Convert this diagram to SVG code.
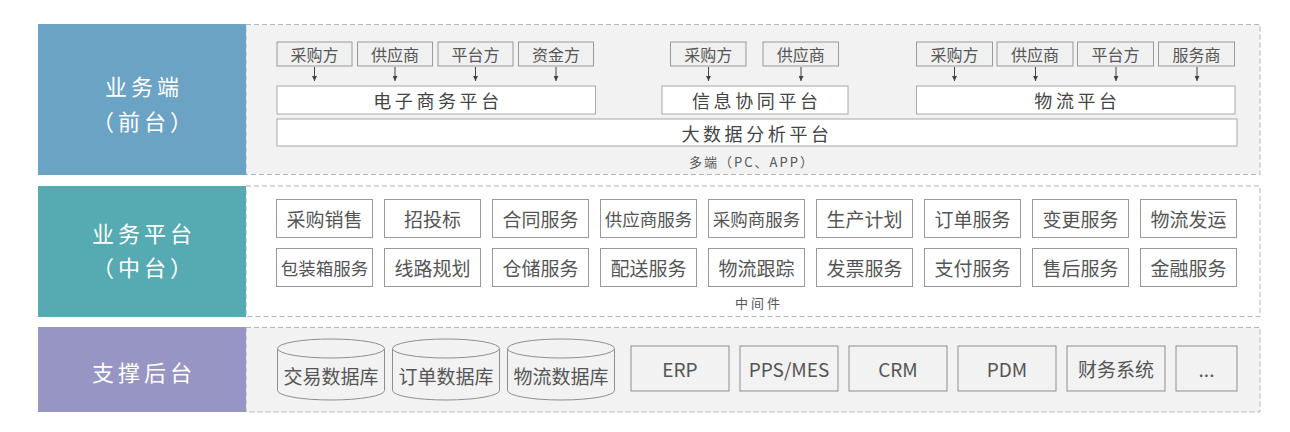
<svg xmlns="http://www.w3.org/2000/svg" width="1290" height="432" viewBox="0 0 1290 432">
<defs>
<marker id="ah" viewBox="0 0 10 10" refX="10" refY="5" markerWidth="5" markerHeight="5" orient="auto" markerUnits="userSpaceOnUse">
<path d="M0,0 L10,5 L0,10 z" fill="#444"/>
</marker>
<style>
text{font-family:"Noto Sans CJK SC","Noto Sans",sans-serif;text-anchor:middle;dominant-baseline:central;fill:#555}
.zone{stroke:#b5b5b5;stroke-width:1;stroke-dasharray:5 3}
.lbl{fill:#fff;font-size:22px;letter-spacing:4px}
.sm{fill:#f0f0f0;stroke:#9a9a9a;stroke-width:1}
.smt{font-size:16px;fill:#555}
.plat{fill:#fff;stroke:#a8a8a8;stroke-width:1}
.platt{font-size:18px;letter-spacing:3.6px;fill:#444}
.note{font-size:13px;letter-spacing:2px;fill:#555}
.svc{fill:#fff;stroke:#9a9a9a;stroke-width:1}
.t4{font-size:19px}
.t5{font-size:17.5px}
.sys{fill:#f2f2f2;stroke:#8e8e8e;stroke-width:1}
.cyl{fill:#f2f2f2;stroke:#8e8e8e;stroke-width:1}
.arr{stroke:#444;stroke-width:1;fill:none}
</style>
</defs>

<g id="zones">
<rect class="zone" x="246" y="24.5" width="1014" height="150" fill="#f2f2f2"/>
<rect class="zone" x="246" y="186" width="1014" height="130.5" fill="#ffffff"/>
<rect class="zone" x="246" y="327.5" width="1014" height="84.5" fill="#f2f2f2"/>
</g>

<g id="label-front">
<rect x="38" y="24" width="208" height="151" fill="#6ba3c5"/>
<text class="lbl" x="144" y="85">业务端</text>
<text class="lbl" x="144" y="120">（前台）</text>
</g>
<g id="label-middle">
<rect x="38" y="186" width="208" height="131" fill="#56aab2"/>
<text class="lbl" x="144" y="232">业务平台</text>
<text class="lbl" x="144" y="266">（中台）</text>
</g>
<g id="label-back">
<rect x="38" y="327" width="208" height="85" fill="#9795c3"/>
<text class="lbl" x="144" y="371">支撑后台</text>
</g>

<g id="front-roles">
<g id="r1"><rect class="sm" x="277" y="42" width="75" height="24"/><text class="smt" x="314.5" y="54">采购方</text></g>
<g id="r2"><rect class="sm" x="357.5" y="42" width="75" height="24"/><text class="smt" x="395" y="54">供应商</text></g>
<g id="r3"><rect class="sm" x="438" y="42" width="75" height="24"/><text class="smt" x="475.5" y="54">平台方</text></g>
<g id="r4"><rect class="sm" x="518.5" y="42" width="75" height="24"/><text class="smt" x="556" y="54">资金方</text></g>
<g id="r5"><rect class="sm" x="670.5" y="42" width="75.5" height="24"/><text class="smt" x="708.2" y="54">采购方</text></g>
<g id="r6"><rect class="sm" x="763" y="42" width="75.5" height="24"/><text class="smt" x="800.7" y="54">供应商</text></g>
<g id="r7"><rect class="sm" x="916.5" y="42" width="76" height="24"/><text class="smt" x="954.5" y="54">采购方</text></g>
<g id="r8"><rect class="sm" x="997" y="42" width="76" height="24"/><text class="smt" x="1035" y="54">供应商</text></g>
<g id="r9"><rect class="sm" x="1077.5" y="42" width="76" height="24"/><text class="smt" x="1115.5" y="54">平台方</text></g>
<g id="r10"><rect class="sm" x="1158.5" y="42" width="76" height="24"/><text class="smt" x="1196.5" y="54">服务商</text></g>
</g>

<g id="connectors">
<line class="arr" x1="314.5" y1="67" x2="314.5" y2="81" marker-end="url(#ah)"/>
<line class="arr" x1="395" y1="67" x2="395" y2="81" marker-end="url(#ah)"/>
<line class="arr" x1="475.5" y1="67" x2="475.5" y2="81" marker-end="url(#ah)"/>
<line class="arr" x1="556" y1="67" x2="556" y2="81" marker-end="url(#ah)"/>
<line class="arr" x1="708.5" y1="67" x2="708.5" y2="81" marker-end="url(#ah)"/>
<line class="arr" x1="801" y1="67" x2="801" y2="81" marker-end="url(#ah)"/>
<line class="arr" x1="954.5" y1="67" x2="954.5" y2="81" marker-end="url(#ah)"/>
<line class="arr" x1="1035.5" y1="67" x2="1035.5" y2="81" marker-end="url(#ah)"/>
<line class="arr" x1="1116" y1="67" x2="1116" y2="81" marker-end="url(#ah)"/>
<line class="arr" x1="1197" y1="67" x2="1197" y2="81" marker-end="url(#ah)"/>
</g>

<g id="platforms">
<g id="p-ec"><rect class="plat" x="277" y="86" width="318.5" height="28"/><text class="platt" x="438" y="100">电子商务平台</text></g>
<g id="p-info"><rect class="plat" x="662" y="86" width="186" height="28"/><text class="platt" x="756.8" y="100">信息协同平台</text></g>
<g id="p-log"><rect class="plat" x="916.5" y="86" width="318.5" height="28"/><text class="platt" x="1077.5" y="100">物流平台</text></g>
<g id="p-bd"><rect class="plat" x="277" y="119" width="960" height="27"/><text class="platt" x="757" y="132.5">大数据分析平台</text></g>
<text class="note" x="752" y="161">多端（PC、APP）</text>
</g>

<g id="services">
<g><rect class="svc" x="276.5" y="199.5" width="96" height="38"/><text class="t4" x="324.5" y="218.5">采购销售</text></g>
<g><rect class="svc" x="384.5" y="199.5" width="96" height="38"/><text class="t4" x="432.5" y="218.5">招投标</text></g>
<g><rect class="svc" x="492.5" y="199.5" width="96" height="38"/><text class="t4" x="540.5" y="218.5">合同服务</text></g>
<g><rect class="svc" x="600.5" y="199.5" width="96" height="38"/><text class="t5" x="648.5" y="218.5">供应商服务</text></g>
<g><rect class="svc" x="708.5" y="199.5" width="96" height="38"/><text class="t5" x="756.5" y="218.5">采购商服务</text></g>
<g><rect class="svc" x="816.5" y="199.5" width="96" height="38"/><text class="t4" x="864.5" y="218.5">生产计划</text></g>
<g><rect class="svc" x="924.5" y="199.5" width="96" height="38"/><text class="t4" x="972.5" y="218.5">订单服务</text></g>
<g><rect class="svc" x="1032.5" y="199.5" width="96" height="38"/><text class="t4" x="1080.5" y="218.5">变更服务</text></g>
<g><rect class="svc" x="1140.5" y="199.5" width="96" height="38"/><text class="t4" x="1188.5" y="218.5">物流发运</text></g>

<g><rect class="svc" x="276.5" y="248.5" width="96" height="38"/><text class="t5" x="324.5" y="267.5">包装箱服务</text></g>
<g><rect class="svc" x="384.5" y="248.5" width="96" height="38"/><text class="t4" x="432.5" y="267.5">线路规划</text></g>
<g><rect class="svc" x="492.5" y="248.5" width="96" height="38"/><text class="t4" x="540.5" y="267.5">仓储服务</text></g>
<g><rect class="svc" x="600.5" y="248.5" width="96" height="38"/><text class="t4" x="648.5" y="267.5">配送服务</text></g>
<g><rect class="svc" x="708.5" y="248.5" width="96" height="38"/><text class="t4" x="756.5" y="267.5">物流跟踪</text></g>
<g><rect class="svc" x="816.5" y="248.5" width="96" height="38"/><text class="t4" x="864.5" y="267.5">发票服务</text></g>
<g><rect class="svc" x="924.5" y="248.5" width="96" height="38"/><text class="t4" x="972.5" y="267.5">支付服务</text></g>
<g><rect class="svc" x="1032.5" y="248.5" width="96" height="38"/><text class="t4" x="1080.5" y="267.5">售后服务</text></g>
<g><rect class="svc" x="1140.5" y="248.5" width="96" height="38"/><text class="t4" x="1188.5" y="267.5">金融服务</text></g>
<text class="note" x="759" y="302.5" style="letter-spacing:3px">中间件</text>
</g>

<g id="databases">
<g id="db1">
<path class="cyl" d="M277.5,348.5 A53.5,9.5 0 0 1 384.5,348.5 L384.5,390.5 A53.5,9.5 0 0 1 277.5,390.5 Z"/>
<path class="cyl" fill="none" d="M277.5,348.5 A53.5,9.5 0 0 0 384.5,348.5"/>
<text class="t4" x="331" y="375">交易数据库</text>
</g>
<g id="db2">
<path class="cyl" d="M392.5,348.5 A53.5,9.5 0 0 1 499.5,348.5 L499.5,390.5 A53.5,9.5 0 0 1 392.5,390.5 Z"/>
<path class="cyl" fill="none" d="M392.5,348.5 A53.5,9.5 0 0 0 499.5,348.5"/>
<text class="t4" x="446" y="375">订单数据库</text>
</g>
<g id="db3">
<path class="cyl" d="M507.5,348.5 A53.5,9.5 0 0 1 614.5,348.5 L614.5,390.5 A53.5,9.5 0 0 1 507.5,390.5 Z"/>
<path class="cyl" fill="none" d="M507.5,348.5 A53.5,9.5 0 0 0 614.5,348.5"/>
<text class="t4" x="561" y="375">物流数据库</text>
</g>
</g>

<g id="systems">
<g><rect class="sys" x="631" y="346" width="98" height="45"/><text class="t4" x="680" y="368.5">ERP</text></g>
<g><rect class="sys" x="740" y="346" width="98" height="45"/><text class="t4" x="789" y="368.5">PPS/MES</text></g>
<g><rect class="sys" x="849" y="346" width="98" height="45"/><text class="t4" x="898" y="368.5">CRM</text></g>
<g><rect class="sys" x="958" y="346" width="98" height="45"/><text class="t4" x="1007" y="368.5">PDM</text></g>
<g><rect class="sys" x="1067" y="346" width="98" height="45"/><text class="t4" x="1116" y="368.5">财务系统</text></g>
<g><rect class="sys" x="1176" y="346" width="61" height="45"/><text class="t4" x="1206.5" y="368.5">...</text></g>
</g>
</svg>
